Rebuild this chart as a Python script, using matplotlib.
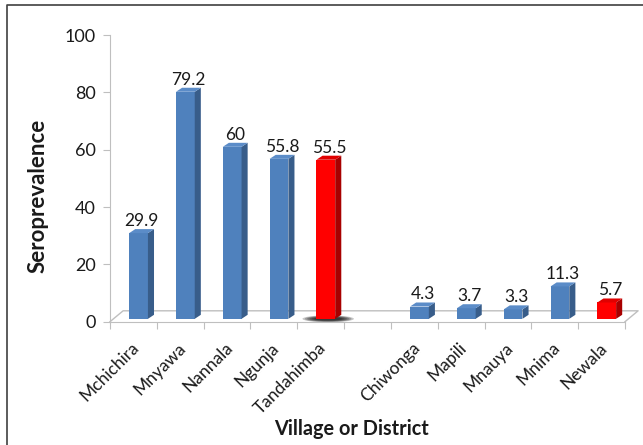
import matplotlib.pyplot as plt
from matplotlib.patches import Polygon, Ellipse
from matplotlib.lines import Line2D

# data
categories = ['Mchichira', 'Mnyawa', 'Nannala', 'Ngunja', 'Tandahimba', '',
              'Chiwonga', 'Mapili', 'Mnauya', 'Mnima', 'Newala']
values = [29.9, 79.2, 60, 55.8, 55.5, None, 4.3, 3.7, 3.3, 11.3, 5.7]
is_district = [False, False, False, False, True, False,
               False, False, False, False, True]

plt.rcParams['font.family'] = ['Lato', 'DejaVu Sans']

fig = plt.figure(figsize=(6.43, 4.45), dpi=100)
ax = fig.add_axes([110/643, 1-321.7/445, 515/643, (321.7-35)/445])
ax.set_xlim(0, 11)
ax.set_ylim(0, 100)

# 3d look settings (data units)
dx, dy = 0.13, 1.4
fx, fy = 0.28, 3.8
left_off, width = 0.41, 0.40
base = 1.0

grid_col = '#BFBFBF'
# floor
ax.add_line(Line2D([0, fx, 11+fx, 11], [0, fy, fy, 0], color=grid_col, lw=1,
                   clip_on=False, zorder=1))

colors = {False: ('#4F81BD', '#385D8A', '#5B8CC8'),
          True: ('#FF0000', '#A80000', '#E00000')}

for i, (v, d) in enumerate(zip(values, is_district)):
    if v is None:
        continue
    front, side, top = colors[d]
    x0 = i + left_off
    x1 = x0 + width
    t = base + v
    if d and v > 20:
        for k in range(6):
            ax.add_patch(Ellipse((x0 + width/2 + 0.05, base), 1.1 - k*0.1, 2.4 - k*0.25,
                                 color='black', alpha=0.22, lw=0, zorder=2, clip_on=False))
    ax.bar(x0, v, width=width, bottom=base, align='edge', color=front, zorder=3)
    ax.add_patch(Polygon([(x1, base), (x1+dx, base+dy), (x1+dx, t+dy), (x1, t)],
                         closed=True, color=side, lw=0, zorder=3))
    ax.add_patch(Polygon([(x0, t), (x0+dx, t+dy), (x1+dx, t+dy), (x1, t)],
                         closed=True, color=top, lw=0, zorder=3))
    ax.annotate(f'{v:g}', (x0 + (width+dx)/2, t+dy), xytext=(0, 0),
                textcoords='offset points', ha='center', va='bottom',
                fontsize=12.5, color='#1a1a1a')

for s in ['top', 'right']:
    ax.spines[s].set_visible(False)
ax.spines['left'].set_color(grid_col)
ax.spines['bottom'].set_color(grid_col)

ax.set_yticks([0, 20, 40, 60, 80, 100])
ax.tick_params(axis='y', length=5, color=grid_col, labelsize=13, pad=5,
               labelcolor='#1a1a1a')
ax.set_xticks(range(12))
ax.set_xticklabels([])
ax.tick_params(axis='x', length=5, color=grid_col)

for i, c in enumerate(categories):
    if not c:
        continue
    ax.annotate(c, (i + left_off + width/2 - 0.05, 0), xytext=(0, -17),
                textcoords='offset points', rotation=45, rotation_mode='anchor',
                ha='right', va='center', fontsize=12.5, color='#1a1a1a',
                annotation_clip=False)

fig.text(0.546, 1-429/445, 'Village or District', ha='center', va='center',
         fontsize=14.3, fontweight='bold', color='#1a1a1a')
fig.text(38/643, 1-196/445, 'Seroprevalence', ha='center', va='center',
         rotation=90, fontsize=16, fontweight='bold', color='#1a1a1a')

# outer frame
fig.add_artist(Line2D([7/643, 7/643, 1], [0, 1-5/445, 1-5/445],
                      transform=fig.transFigure, color='#404040', lw=1.2))

fig.savefig('out.png', dpi=100)
